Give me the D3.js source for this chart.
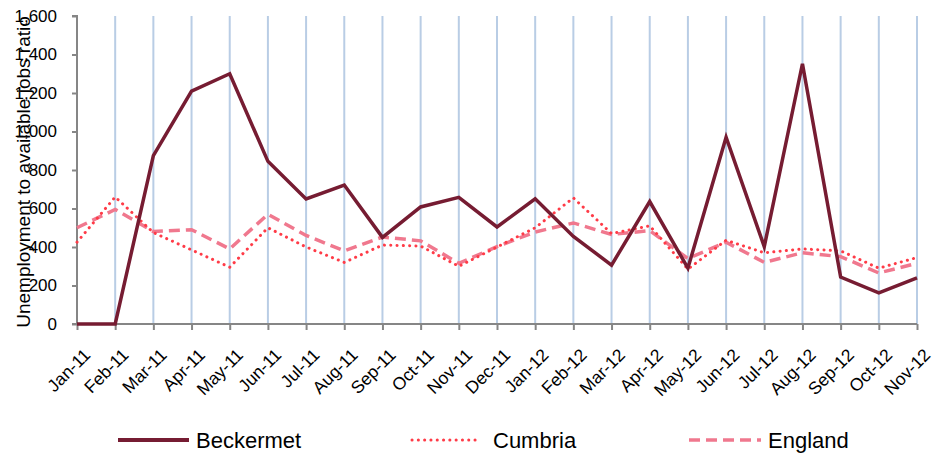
<!DOCTYPE html>
<html>
<head>
<meta charset="utf-8">
<script src="https://cdn.jsdelivr.net/npm/d3@7"></script>
<style>
  html, body { margin: 0; padding: 0; background: #fff; }
  svg { display: block; font-family: "Liberation Sans", Arial, sans-serif; }
</style>
</head>
<body>
<svg id="chart" width="934" height="453"></svg>
<script>
// Monthly categories, Jan 2011 to Nov 2012
const months = ["Jan-11","Feb-11","Mar-11","Apr-11","May-11","Jun-11","Jul-11","Aug-11","Sep-11","Oct-11","Nov-11","Dec-11",
                "Jan-12","Feb-12","Mar-12","Apr-12","May-12","Jun-12","Jul-12","Aug-12","Sep-12","Oct-12","Nov-12"];

// Unemployment to available jobs ratio by area
const beckermet = [0, 0, 875, 1210, 1300, 845, 650, 722, 450, 608, 658, 504,
                   650, 455, 306, 636, 290, 970, 402, 1352, 244, 162, 240];
const cumbria   = [425, 660, 475, 385, 295, 500, 400, 320, 410, 405, 300, 400,
                   500, 655, 470, 510, 285, 435, 370, 390, 380, 290, 345];
const england   = [500, 595, 480, 490, 390, 570, 460, 380, 452, 432, 315, 402,
                   478, 525, 465, 485, 340, 425, 320, 370, 350, 265, 315];

const yTicks = [0, 200, 400, 600, 800, 1000, 1200, 1400, 1600];

const seriesNames = ["Beckermet", "Cumbria", "England"];

const svg = d3.select("#chart");
const plotLeft = 77, plotRight = 917, plotTop = 16, plotBottom = 324;

const x = d3.scalePoint().domain(months).range([plotLeft, plotRight]);
const y = d3.scaleLinear().domain([0, 1600]).range([plotBottom, plotTop]);

// vertical gridlines at each month
svg.append("g")
  .selectAll("line")
  .data(months.slice(1))
  .join("line")
  .attr("x1", d => x(d)).attr("x2", d => x(d))
  .attr("y1", plotTop).attr("y2", plotBottom)
  .attr("stroke", "#B9CDE5").attr("stroke-width", 2);

// y axis
const yAxis = d3.axisLeft(y).tickValues(yTicks).tickSize(5).tickPadding(15)
  .tickFormat(d3.format(","));
const gy = svg.append("g").attr("transform", `translate(${plotLeft},0)`).call(yAxis);
gy.select(".domain").attr("stroke", "#868686").attr("stroke-width", 2)
  .attr("d", `M-5,${plotTop}H0V${plotBottom}H-5`);
gy.selectAll(".tick line").attr("stroke", "#868686").attr("stroke-width", 2);
gy.selectAll(".tick text").attr("font-size", 17).attr("fill", "#000")
  .attr("font-family", "Liberation Sans, Arial, sans-serif");

// x axis
const xAxis = d3.axisBottom(x).tickSize(6).tickSizeOuter(0);
const gx = svg.append("g").attr("transform", `translate(0,${plotBottom})`).call(xAxis);
gx.select(".domain").attr("stroke", "#868686").attr("stroke-width", 2)
  .attr("d", `M${plotLeft},0H${plotRight}`);
gx.selectAll(".tick line").attr("stroke", "#868686").attr("stroke-width", 2);
gx.selectAll(".tick text")
  .attr("font-size", 17.5).attr("fill", "#000")
  .attr("font-family", "Liberation Sans, Arial, sans-serif")
  .attr("text-anchor", "end")
  .attr("dy", "0")
  .attr("y", 0)
  .attr("transform", "translate(14,32) rotate(-45)");

// y axis title
svg.append("text")
  .attr("transform", `translate(30,172) rotate(-90)`)
  .attr("text-anchor", "middle")
  .attr("font-size", 19)
  .attr("fill", "#000")
  .text("Unemployment to available jobs ratio");

const line = d3.line().x((d, i) => x(months[i])).y(d => y(d));

const styles = [
  { data: beckermet, color: "#761C32", width: 3.5, dash: null, cap: "butt" },
  { data: cumbria,   color: "#FF3B47", width: 3,   dash: "0.1 6.2", cap: "round" },
  { data: england,   color: "#F0788E", width: 3.5, dash: "11 6", cap: "butt" }
];

// draw England first, then Cumbria, Beckermet on top
[2, 1, 0].forEach(i => {
  const s = styles[i];
  svg.append("path")
    .datum(s.data)
    .attr("d", line)
    .attr("fill", "none")
    .attr("stroke", s.color)
    .attr("stroke-width", s.width)
    .attr("stroke-linejoin", "miter")
    .attr("stroke-linecap", s.cap)
    .attr("stroke-dasharray", s.dash);
});

// legend
const legendLine = [[118, 189], [412, 478], [689, 761]];
const legendText = [196, 493, 768];
const legend = svg.append("g");
seriesNames.forEach((name, i) => {
  const s = styles[i];
  legend.append("line")
    .attr("x1", legendLine[i][0]).attr("x2", legendLine[i][1])
    .attr("y1", 440).attr("y2", 440)
    .attr("stroke", s.color).attr("stroke-width", i === 0 ? 4 : s.width)
    .attr("stroke-linecap", s.cap)
    .attr("stroke-dasharray", s.dash);
  legend.append("text")
    .attr("x", legendText[i])
    .attr("y", 448)
    .attr("font-size", 22)
    .attr("fill", "#000")
    .text(name);
});
</script>
</body>
</html>
